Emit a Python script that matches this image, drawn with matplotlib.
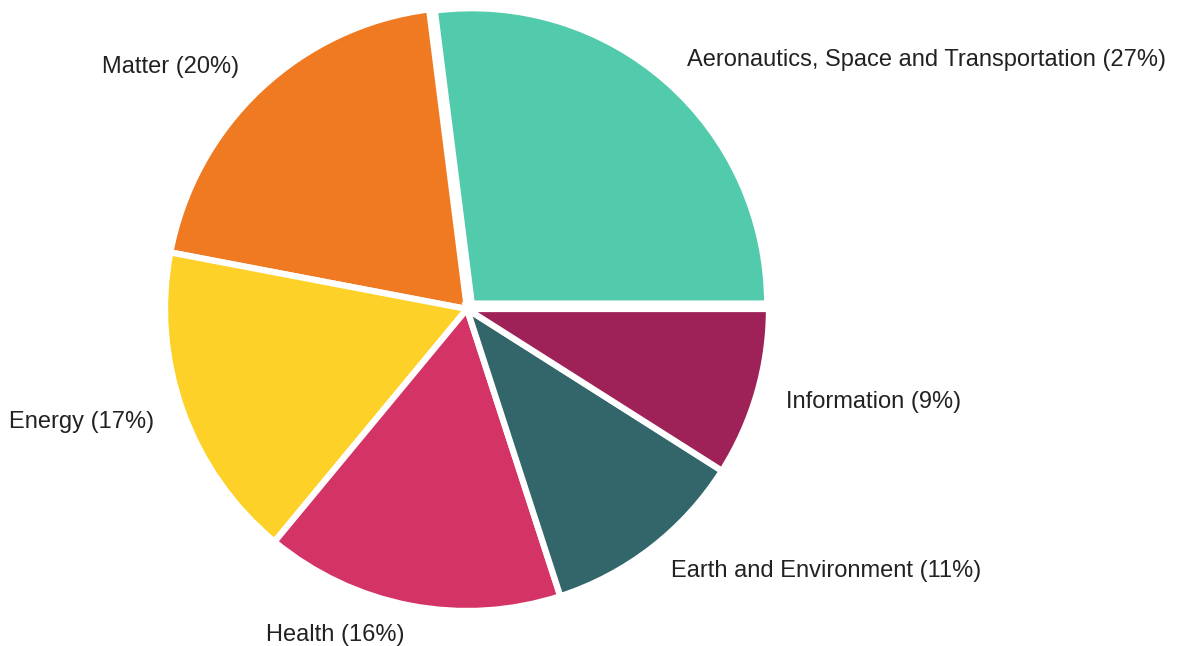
import matplotlib
matplotlib.use("Agg")
import matplotlib.pyplot as plt
import numpy as np

categories = [
    "Aeronautics, Space and Transportation",
    "Matter",
    "Energy",
    "Health",
    "Earth and Environment",
    "Information",
]
shares = [27, 20, 17, 16, 11, 9]
colors = ["#52CAAC", "#F07A21", "#FDD128", "#D43366", "#33666B", "#9E2157"]

plt.rcParams["font.family"] = ["Liberation Sans", "DejaVu Sans"]

fig = plt.figure(figsize=(11.78, 6.46), dpi=100)
lim = 1.1
r_px = 302
cx, cy = 467, 646 - 309
half = lim * r_px
ax = fig.add_axes([(cx - half) / 1178, (cy - half) / 646, 2 * half / 1178, 2 * half / 646])

labels = [f"{c} ({v}%)" for c, v in zip(categories, shares)]
wedges, texts = ax.pie(
    shares,
    labels=labels,
    colors=colors,
    startangle=0,
    counterclock=True,
    labeldistance=1.1,
    wedgeprops=dict(edgecolor="white", linewidth=4.5),
    textprops=dict(fontsize=17, color="#222222"),
)

# pull the first wedge slightly away from the centre
mid = np.deg2rad(360 * shares[0] / sum(shares) / 2)
wedges[0].set_center((0.024 * np.cos(mid), 0.024 * np.sin(mid)))
wedges[0].set_radius(0.978)

ax.set_xlim(-lim, lim)
ax.set_ylim(-lim, lim)
ax.set_aspect("equal")

fig.savefig("out.png", dpi=100)
